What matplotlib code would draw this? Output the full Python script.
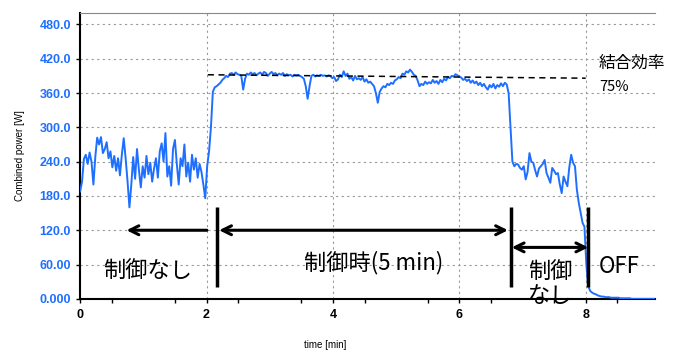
import numpy as np
import matplotlib
matplotlib.use("Agg")
import matplotlib.pyplot as plt

# sample interval of the logger [min]
dt = 0.03

# Combined power [W]
# before control (0 - 2.07 min)
seg_a = [188, 205, 245, 252, 236, 256, 240, 200, 248, 282,
         270, 283, 255, 262, 274, 246, 258, 230, 250, 224,
         246, 216, 252, 281, 246, 206, 160, 200, 248, 210,
         262, 226, 195, 232, 212, 250, 218, 238, 205, 228,
         246, 212, 258, 272, 240, 290, 214, 232, 198, 262,
         278, 236, 200, 246, 232, 270, 214, 238, 205, 252,
         226, 246, 212, 236, 222, 200, 176, 232, 258, 300]
# under control (2.10 - 6.78 min)
seg_b = [362, 370, 372, 375, 378, 383, 386, 390, 388, 394,
         395, 392, 396, 393, 392, 390, 366, 385, 394, 392,
         396, 393, 395, 391, 394, 396, 392, 397, 395, 390,
         394, 397, 393, 395, 391, 394, 392, 395, 390, 393,
         391, 392, 389, 392, 391, 392, 390, 388, 385, 372,
         350, 372, 390, 392, 389, 391, 390, 392, 390, 391,
         389, 391, 390, 386, 388, 381, 384, 392, 388, 398,
         390, 394, 385, 388, 382, 390, 384, 386, 383, 388,
         380, 384, 378, 380, 376, 372, 360, 343, 362, 368,
         372, 370, 376, 374, 378, 376, 382, 384, 388, 386,
         394, 392, 398, 396, 401, 397, 392, 390, 382, 372,
         376, 374, 380, 376, 379, 377, 383, 378, 381, 376,
         383, 379, 385, 382, 388, 386, 390, 389, 393, 391,
         389, 387, 383, 385, 381, 384, 378, 382, 377, 380,
         374, 378, 372, 376, 370, 366, 374, 370, 376, 368,
         374, 371, 377, 372, 378, 375, 360]
# control off again (6.81 - 7.98 min)
seg_c = [300, 240, 232, 236, 235, 229, 226, 232, 209, 222,
         255, 240, 238, 225, 214, 228, 232, 236, 243, 220,
         212, 203, 229, 224, 218, 220, 200, 185, 214, 205,
         197, 230, 252, 238, 232, 191, 168, 150, 133, 126]
# power switched off (8.01 - 9.09 min)
seg_d = [60, 22, 14, 11, 9, 8, 6, 5, 4, 4,
         3, 3, 3, 2, 2, 2, 2, 2, 1, 1,
         1, 1, 1, 1, 0, 0, 0, 0, 0, 0,
         0, 0, 0, 0, 0, 0, 0]

power = np.array(seg_a + seg_b + seg_c + seg_d, dtype=float)
t = np.arange(len(power)) * dt

# 75 % coupling efficiency reference
eff_t = [2.02, 8.0]
eff_p = [392, 386]

y_ticks = [0, 60, 120, 180, 240, 300, 360, 420, 480]
y_labels = ["0.000", "60.00", "120.0", "180.0", "240.0", "300.0", "360.0", "420.0", "480.0"]
x_ticks = [0, 2, 4, 6, 8]

blue = "#1f6fff"
jp = ["Noto Sans CJK JP", "DejaVu Sans"]

fig = plt.figure(figsize=(6.79, 3.52), dpi=100)
ax = fig.add_axes((0.118, 0.151, 0.847, 0.812))

ax.plot(t, power, color=blue, lw=1.4, zorder=3)
ax.plot(eff_t, eff_p, color="black", lw=1.1, ls=(0, (4, 3)), zorder=4)

ax.set_xlim(0, 9.1)
ax.set_ylim(0, 500)
ax.set_yticks(y_ticks)
ax.set_yticklabels(y_labels, color=blue, fontweight="bold", fontsize=9,
                   family="Liberation Sans")
ax.set_xticks(x_ticks)
ax.set_xticklabels([str(v) for v in x_ticks], fontweight="bold", fontsize=9,
                   family="Liberation Sans")
ax.set_xticks(np.arange(0.5, 9.1, 1.0), minor=True)
ax.tick_params(axis="both", which="both", direction="out", length=3, width=1)
ax.tick_params(axis="x", which="major", pad=4)

# grid: dotted grey, no line on the axes themselves
for v in y_ticks[1:]:
    ax.axhline(v, color="#999999", lw=0.8, ls=(0, (2, 3)), zorder=1)
for v in x_ticks[1:]:
    ax.axvline(v, color="#999999", lw=0.8, ls=(0, (2, 3)), zorder=1)

ax.spines["right"].set_visible(False)
ax.spines["top"].set_color("#888888")
ax.spines["top"].set_linewidth(0.8)
ax.spines["left"].set_linewidth(1.5)
ax.spines["bottom"].set_linewidth(1.5)

ax.set_ylabel("Combined power [W]", fontsize=7, family="Liberation Sans")
ax.yaxis.set_label_coords(-0.095, 0.5)
ax.set_xlabel("time [min]", fontsize=7, family="Liberation Sans")
ax.xaxis.set_label_coords(0.426, -0.143)

# phase markers
for xb in [2.17, 6.81, 8.03]:
    ax.plot([xb, xb], [20, 160], color="black", lw=2.5, zorder=5, solid_capstyle="butt")

arrow = dict(arrowstyle="->", color="black", lw=2.2, mutation_scale=16)
ax.annotate("", xy=(0.69, 120), xytext=(2.05, 120), arrowprops=arrow, zorder=5)
arrow2 = dict(arrowstyle="<->", color="black", lw=2.2, mutation_scale=16,
              shrinkA=0, shrinkB=0)
ax.annotate("", xy=(6.77, 120), xytext=(2.2, 120), arrowprops=arrow2, zorder=5)
ax.annotate("", xy=(8.04, 90), xytext=(6.83, 90), arrowprops=arrow2, zorder=5)

ax.text(1.06, 50, "制御なし", family=jp, fontsize=16, ha="center", va="center")
ax.text(4.64, 63, "制御時(5 min)", family=jp, fontsize=16, ha="center", va="center")
ax.text(7.44, 27, "制御\nなし", family=jp, fontsize=16, ha="center", va="center",
        linespacing=1.05)
ax.text(8.2, 57, "OFF", family=jp, fontsize=16, ha="left", va="center")
ax.text(8.21, 412, "結合効率", family=jp, fontsize=12, ha="left", va="center")
ax.text(8.21, 370, "75%", family=jp, fontsize=10.5, ha="left", va="center")

fig.savefig("out.png", dpi=100, facecolor="white")
